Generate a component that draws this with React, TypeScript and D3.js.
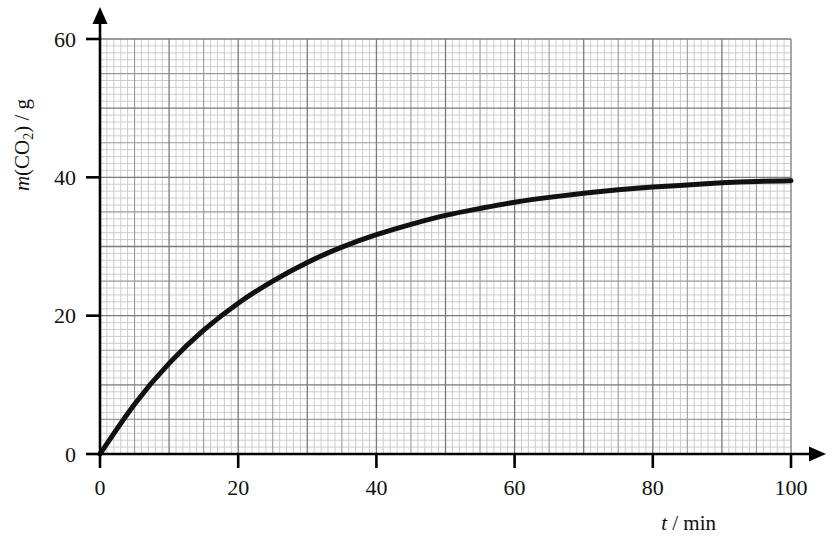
import React from "react";
import * as d3 from "d3";

const timeMin = [0, 5, 10, 15, 20, 25, 30, 35, 40, 45, 50, 55, 60, 65, 70, 75, 80, 85, 90, 95, 100];
const massCO2 = [0, 7.2, 13.1, 17.9, 21.8, 25.0, 27.7, 29.9, 31.7, 33.2, 34.5, 35.5, 36.4, 37.1, 37.7, 38.2, 38.6, 38.9, 39.2, 39.4, 39.5];
const xTicks = [0, 20, 40, 60, 80, 100];
const yTicks = [0, 20, 40, 60];

const W = 835;
const H = 539;

export default function App() {
  const x = d3.scaleLinear().domain([0, 100]).range([100, 791]);
  const y = d3.scaleLinear().domain([0, 60]).range([454, 39]);

  const xMinor = d3.range(0, 101, 1);
  const yMinor = d3.range(0, 61, 1);

  const gridStyle = (v: number) => {
    if (v % 10 === 0) return { stroke: "#7a7a7a", w: 1.3 };
    if (v % 5 === 0) return { stroke: "#9a9a9a", w: 1.1 };
    return { stroke: "#c8c8c8", w: 0.9 };
  };

  const line = d3
    .line<number>()
    .x((_, i) => x(timeMin[i]))
    .y((d) => y(d))
    .curve(d3.curveNatural);

  const font = "'Liberation Serif', 'Times New Roman', serif";
  const order = (v: number) => (v % 10 === 0 ? 2 : v % 5 === 0 ? 1 : 0);

  return (
    <svg
      width={W}
      height={H}
      style={{ position: "absolute", left: 0, top: 0, background: "#fff" }}
      fontFamily={font}
    >
      <rect width={W} height={H} fill="#fff" />
      {[0, 1, 2].map((lvl) => (
        <g key={lvl}>
          {xMinor
            .filter((v) => order(v) === lvl && v !== 0)
            .map((v) => {
              const s = gridStyle(v);
              return (
                <line key={"x" + v} x1={x(v)} x2={x(v)} y1={y(0)} y2={y(60)} stroke={s.stroke} strokeWidth={s.w} />
              );
            })}
          {yMinor
            .filter((v) => order(v) === lvl && v !== 0)
            .map((v) => {
              const s = gridStyle(v);
              return (
                <line key={"y" + v} x1={x(0)} x2={x(100)} y1={y(v)} y2={y(v)} stroke={s.stroke} strokeWidth={s.w} />
              );
            })}
        </g>
      ))}

      <path d={line(massCO2) || ""} fill="none" stroke="#111" strokeWidth={5} strokeLinecap="round" strokeLinejoin="round" />

      <line x1={x(0)} x2={x(0)} y1={y(0) + 1.5} y2={22} stroke="#000" strokeWidth={2.6} />
      <path d={`M${x(0)},7 L${x(0) - 7.5},24 L${x(0) + 7.5},24 Z`} fill="#000" />
      <line x1={x(0) - 1.3} x2={812} y1={y(0)} y2={y(0)} stroke="#000" strokeWidth={2.6} />
      <path d={`M826,${y(0)} L809,${y(0) - 7.5} L809,${y(0) + 7.5} Z`} fill="#000" />

      {yTicks.map((v) => (
        <g key={"yt" + v}>
          <line x1={86} x2={x(0)} y1={y(v)} y2={y(v)} stroke="#000" strokeWidth={2.6} />
          <text x={76} y={y(v)} dy="0.35em" textAnchor="end" fontSize={22} fill="#111">
            {v}
          </text>
        </g>
      ))}
      {xTicks.map((v) => (
        <g key={"xt" + v}>
          <line x1={x(v)} x2={x(v)} y1={y(0)} y2={468} stroke="#000" strokeWidth={2.6} />
          <text x={x(v)} y={495} textAnchor="middle" fontSize={22} fill="#111">
            {v}
          </text>
        </g>
      ))}

      <text x={716} y={530} textAnchor="end" fontSize={21} fill="#111">
        <tspan fontStyle="italic">t</tspan>
        <tspan> / min</tspan>
      </text>
      <text transform="translate(29,145) rotate(-90)" textAnchor="middle" fontSize={21} fill="#111">
        <tspan fontStyle="italic">m</tspan>
        <tspan>(CO</tspan>
        <tspan fontSize={14} dy={4}>2</tspan>
        <tspan dy={-4}>) / g</tspan>
      </text>
    </svg>
  );
}
